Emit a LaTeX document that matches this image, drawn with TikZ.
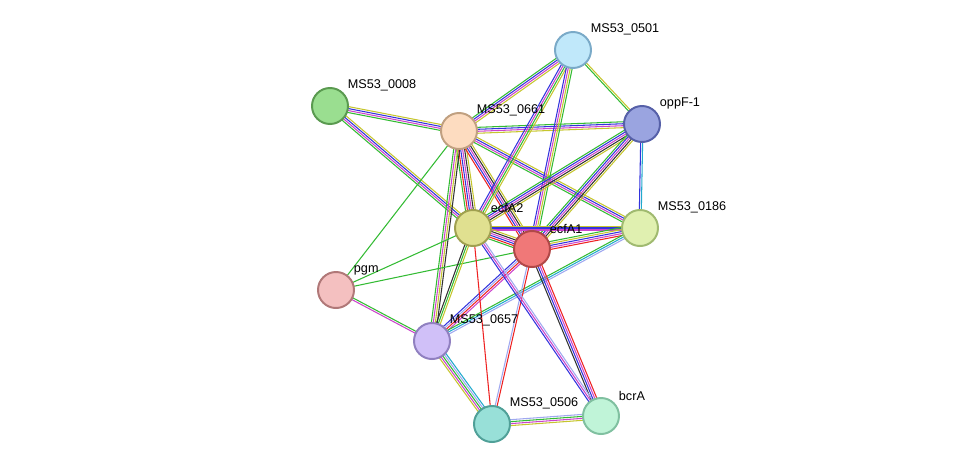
\documentclass[tikz,border=0pt]{standalone}
\usepackage{fontspec}
\setmainfont{Liberation Sans}
\usetikzlibrary{calc,backgrounds}
\definecolor{tm}{HTML}{C6C62E}
\definecolor{ex}{HTML}{CC44CC}
\definecolor{db}{HTML}{22AACC}
\definecolor{nb}{HTML}{33BB33}
\definecolor{co}{HTML}{3333DD}
\definecolor{ce}{HTML}{333333}
\definecolor{fu}{HTML}{EE2222}
\definecolor{ho}{HTML}{A0A8F0}
\newcommand\strEdge[3]{%
  \foreach \c [count=\i] in {#3} {\xdef\nEdge{\i}}
  \foreach \c [count=\i] in {#3} {
    \pgfmathsetmacro\off{(\i-(\nEdge+1)/2)*1.4}
    \draw[edge,\c] ($(#1)!\off pt!90:(#2)$) -- ($(#2)!\off pt!-90:(#1)$);
  }}
\begin{document}
\begin{tikzpicture}[x=0.025cm,y=-0.025cm,
  prot/.style={circle,minimum size=0.9cm,inner sep=0pt,line width=1.4pt},
  lbl/.style={font=\fontsize{9}{10}\selectfont,inner sep=1pt,xshift=2pt},
  edge/.style={line width=0.75pt}]
  \useasboundingbox (0,0) rectangle (976,470);
  \node[prot,fill={rgb,255:red,192;green,232;blue,250},draw={rgb,255:red,122;green,170;blue,200},label={[lbl,anchor=south west]45:MS53\_0501}] (m0501) at (573,50) {};
  \node[prot,fill={rgb,255:red,154;green,164;blue,224},draw={rgb,255:red,86;green,96;blue,168},label={[lbl,anchor=south west]45:oppF-1}] (oppF) at (642,124) {};
  \node[prot,fill={rgb,255:red,154;green,222;blue,144},draw={rgb,255:red,90;green,154;blue,80},label={[lbl,anchor=south west]45:MS53\_0008}] (m0008) at (330,106) {};
  \node[prot,fill={rgb,255:red,253;green,220;blue,192},draw={rgb,255:red,192;green,160;blue,128},label={[lbl,anchor=south west]45:MS53\_0661}] (m0661) at (459,131) {};
  \node[prot,fill={rgb,255:red,224;green,240;blue,176},draw={rgb,255:red,160;green,186;blue,112},label={[lbl,anchor=south west]45:MS53\_0186}] (m0186) at (640,228) {};
  \node[prot,fill={rgb,255:red,224;green,224;blue,144},draw={rgb,255:red,160;green,160;blue,80},label={[lbl,anchor=south west]45:ecfA2}] (ecfA2) at (473,228) {};
  \node[prot,fill={rgb,255:red,240;green,120;blue,120},draw={rgb,255:red,176;green,72;blue,72},label={[lbl,anchor=south west]45:ecfA1}] (ecfA1) at (532,249) {};
  \node[prot,fill={rgb,255:red,244;green,192;blue,192},draw={rgb,255:red,176;green,120;blue,120},label={[lbl,anchor=south west]45:pgm}] (pgm) at (336,290) {};
  \node[prot,fill={rgb,255:red,208;green,192;blue,248},draw={rgb,255:red,144;green,128;blue,192},label={[lbl,anchor=south west]45:MS53\_0657}] (m0657) at (432,341) {};
  \node[prot,fill={rgb,255:red,152;green,224;blue,216},draw={rgb,255:red,80;green,160;blue,152},label={[lbl,anchor=south west]45:MS53\_0506}] (m0506) at (492,424) {};
  \node[prot,fill={rgb,255:red,192;green,244;blue,216},draw={rgb,255:red,128;green,192;blue,160},label={[lbl,anchor=south west]45:bcrA}] (bcrA) at (601,416) {};

  \begin{pgfonlayer}{background}
  \strEdge{m0008}{m0661}{nb,ex,co,tm}
  \strEdge{m0008}{ecfA2}{nb,ex,co,tm}
  \strEdge{m0661}{m0501}{tm,ex,co,nb}
  \strEdge{m0661}{oppF}{tm,ex,co,nb}
  \strEdge{m0661}{m0186}{nb,ex,co,tm}
  \strEdge{m0661}{ecfA2}{nb,fu,co,ex,ce,tm}
  \strEdge{m0661}{ecfA1}{fu,co,ex,ce,tm}
  \strEdge{m0661}{m0657}{nb,ex,tm,ce}
  \strEdge{m0661}{pgm}{nb}
  \strEdge{m0501}{oppF}{nb,tm}
  \strEdge{m0501}{ecfA2}{co,ex,nb,tm}
  \strEdge{m0501}{ecfA1}{co,ex,tm,nb}
  \strEdge{oppF}{m0186}{co,db}
  \strEdge{oppF}{ecfA2}{nb,co,ex,ce,tm}
  \strEdge{oppF}{ecfA1}{nb,co,ex,ce,tm}
  \strEdge{ecfA2}{m0186}{ex,co,tm}
  \strEdge{ecfA1}{m0186}{fu,ex,co,tm,nb}
  \strEdge{ecfA2}{ecfA1}{nb,fu,co,ex,ce,tm}
  \strEdge{ecfA2}{pgm}{nb}
  \strEdge{ecfA1}{pgm}{nb}
  \strEdge{pgm}{m0657}{ex,nb}
  \strEdge{ecfA2}{m0657}{ce,nb,tm}
  \strEdge{ecfA1}{m0657}{co,ho,fu,ex}
  \strEdge{m0186}{m0657}{nb,db,ho}
  \strEdge{m0657}{m0506}{tm,ex,nb,ho,db}
  \strEdge{m0506}{bcrA}{tm,ex,nb,ho}
  \strEdge{ecfA2}{m0506}{fu}
  \strEdge{ecfA1}{m0506}{ho,fu}
  \strEdge{ecfA1}{bcrA}{ce,co,ex,fu}
  \strEdge{ecfA2}{bcrA}{co,ex,ho}
  \end{pgfonlayer}
\end{tikzpicture}
\end{document}
